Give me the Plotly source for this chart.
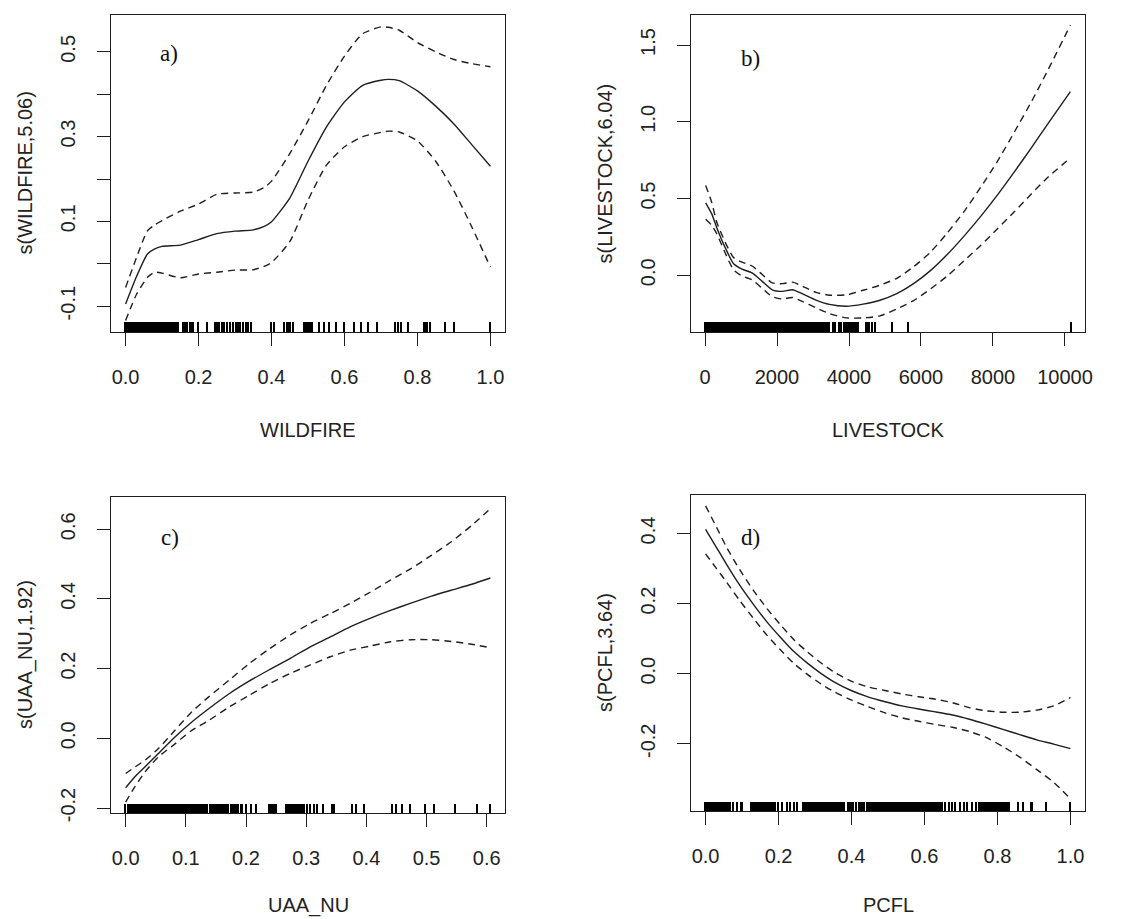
import plotly.graph_objects as go

# ---------------- data ----------------
# a) WILDFIRE
wf_x = [0.00, 0.03, 0.06, 0.08, 0.10, 0.15, 0.20, 0.25, 0.30, 0.35, 0.38, 0.40, 0.45,
        0.50, 0.55, 0.60, 0.65, 0.70, 0.72, 0.75, 0.80, 0.85, 0.90, 0.95, 1.00]
wf_fit = [-0.095, -0.030, 0.023, 0.035, 0.041, 0.044, 0.057, 0.071, 0.077, 0.080, 0.088, 0.099, 0.155,
          0.242, 0.322, 0.382, 0.421, 0.433, 0.435, 0.432, 0.408, 0.372, 0.330, 0.280, 0.230]
wf_upper = [-0.056, 0.015, 0.078, 0.092, 0.102, 0.124, 0.141, 0.164, 0.167, 0.169, 0.180, 0.195, 0.260,
            0.337, 0.420, 0.490, 0.543, 0.559, 0.558, 0.551, 0.522, 0.500, 0.482, 0.472, 0.465]
wf_lower = [-0.134, -0.072, -0.032, -0.020, -0.022, -0.033, -0.024, -0.020, -0.015, -0.014, -0.006, 0.003, 0.052,
            0.150, 0.232, 0.276, 0.300, 0.310, 0.313, 0.311, 0.290, 0.242, 0.172, 0.085, -0.008]
wf_rug = [0.000, 0.002, 0.005, 0.008, 0.010, 0.013, 0.016, 0.018, 0.021, 0.024, 0.027, 0.029, 0.032,
          0.035, 0.037, 0.040, 0.043, 0.046, 0.048, 0.051, 0.054, 0.056, 0.059, 0.062, 0.065, 0.067,
          0.070, 0.073, 0.075, 0.078, 0.081, 0.084, 0.086, 0.089, 0.092, 0.094, 0.097, 0.100, 0.103,
          0.105, 0.108, 0.111, 0.114,
          0.118, 0.123, 0.127, 0.134, 0.139, 0.145, 0.159, 0.164, 0.170, 0.177, 0.184, 0.198, 0.223,
          0.245, 0.252, 0.257, 0.264, 0.270, 0.279, 0.288, 0.295, 0.303, 0.309, 0.315, 0.323, 0.332,
          0.336, 0.345, 0.400, 0.407, 0.435, 0.444, 0.450, 0.459, 0.491, 0.495, 0.500, 0.505, 0.509,
          0.512, 0.532, 0.545, 0.559, 0.577, 0.600, 0.627, 0.645, 0.666, 0.691, 0.739, 0.748, 0.755,
          0.775, 0.820, 0.827, 0.836, 0.877, 0.900, 1.000]

# b) LIVESTOCK
lv_x = [18, 187, 327, 561, 794, 1028, 1308, 1589, 1869, 2150, 2430, 2710, 3084, 3458, 3925,
        4393, 4860, 5327, 5794, 6262, 6729, 7196, 7664, 8131, 8598, 9065, 9533, 10150]
lv_fit = [0.472, 0.400, 0.310, 0.180, 0.075, 0.040, 0.015, -0.040, -0.095, -0.105, -0.095, -0.122,
          -0.162, -0.190, -0.202, -0.188, -0.163, -0.120, -0.055, 0.030, 0.135, 0.255, 0.385, 0.525,
          0.675, 0.830, 0.990, 1.196]
lv_upper = [0.585, 0.475, 0.345, 0.215, 0.115, 0.085, 0.060, 0.005, -0.050, -0.055, -0.045, -0.072,
            -0.112, -0.130, -0.128, -0.098, -0.065, -0.020, 0.055, 0.150, 0.275, 0.415, 0.575, 0.745,
            0.935, 1.130, 1.340, 1.630]
lv_lower = [0.365, 0.325, 0.270, 0.145, 0.035, -0.005, -0.030, -0.085, -0.140, -0.155, -0.145, -0.172,
            -0.212, -0.250, -0.278, -0.278, -0.265, -0.220, -0.165, -0.090, -0.005, 0.095, 0.195, 0.305,
            0.415, 0.530, 0.640, 0.765]
lv_rug = [20, 55, 92, 128, 163, 200, 236, 270, 307, 343, 380, 414, 450, 487, 522, 558, 594, 630, 665,
          702, 738, 772, 809, 845, 880, 916, 952, 988, 1024, 1060, 1095, 1131, 1168, 1203, 1239, 1275,
          1310, 1347, 1382, 1418, 1454, 1490, 1526, 1561, 1597, 1633, 1669, 1705, 1740, 1776, 1812,
          1848, 1884, 1920, 1955, 1991, 2027, 2063, 2099, 2134, 2170, 2206, 2242, 2278, 2313, 2349,
          2385, 2421, 2457, 2492, 2528, 2564, 2600, 2636, 2671, 2707, 2743, 2779, 2815, 2850, 2886,
          2922, 2958, 2994, 3029, 3065, 3101, 3137, 3173, 3208, 3244, 3280, 3316, 3352, 3388, 3416,
          3462, 3554, 3627, 3719, 3783, 3857, 3921, 3967, 4000, 4041, 4105, 4178, 4243, 4472, 4518,
          4564, 4637, 4729, 5207, 5638, 10166]

# c) UAA_NU
ua_x = [0.000, 0.015, 0.032, 0.054, 0.082, 0.110, 0.138, 0.172, 0.205, 0.239, 0.273, 0.306, 0.340,
        0.373, 0.407, 0.440, 0.474, 0.508, 0.541, 0.575, 0.606]
ua_fit = [-0.142, -0.111, -0.082, -0.044, 0.004, 0.047, 0.085, 0.128, 0.164, 0.197, 0.229, 0.262,
          0.291, 0.320, 0.345, 0.367, 0.388, 0.408, 0.425, 0.442, 0.460]
ua_upper = [-0.101, -0.083, -0.063, -0.030, 0.023, 0.076, 0.119, 0.167, 0.214, 0.257, 0.296, 0.329,
            0.358, 0.387, 0.420, 0.454, 0.487, 0.525, 0.564, 0.611, 0.659]
ua_lower = [-0.183, -0.140, -0.097, -0.054, -0.016, 0.023, 0.051, 0.090, 0.123, 0.157, 0.186, 0.210,
            0.234, 0.253, 0.265, 0.277, 0.283, 0.283, 0.278, 0.270, 0.260]
ua_rug = [0.000, 0.0040, 0.0065, 0.0090, 0.0115, 0.0140, 0.0165, 0.0190, 0.0215, 0.0240, 0.0265,
          0.0290, 0.0315, 0.0340, 0.0365, 0.0390, 0.0415, 0.0440, 0.0465, 0.0490, 0.0515, 0.0540,
          0.0565, 0.0590, 0.0615, 0.0640, 0.0665, 0.0690, 0.0715, 0.0740, 0.0765, 0.0790, 0.0815,
          0.0840, 0.0865, 0.0890, 0.0915, 0.0940, 0.0965, 0.0990, 0.1015, 0.1040, 0.1065, 0.1090,
          0.1120, 0.1160, 0.1185, 0.1210, 0.1235, 0.1260, 0.1285, 0.1310, 0.1335, 0.1360,
          0.140, 0.144, 0.148, 0.151, 0.154, 0.157, 0.161, 0.164, 0.168, 0.171, 0.175, 0.178, 0.183,
          0.187, 0.193, 0.201, 0.209, 0.217, 0.239, 0.242, 0.245, 0.248, 0.250, 0.267, 0.271, 0.275,
          0.279, 0.282, 0.286, 0.290, 0.293, 0.297, 0.302, 0.306, 0.313, 0.319, 0.328, 0.344, 0.347,
          0.377, 0.383, 0.396, 0.443, 0.449, 0.460, 0.473, 0.498, 0.512, 0.548, 0.584, 0.606]

# d) PCFL
pc_x = [0.000, 0.030, 0.057, 0.094, 0.131, 0.168, 0.205, 0.242, 0.279, 0.316, 0.353, 0.399, 0.445,
        0.492, 0.538, 0.584, 0.630, 0.677, 0.723, 0.769, 0.815, 0.861, 0.908, 0.954, 1.000]
pc_fit = [0.412, 0.360, 0.313, 0.252, 0.198, 0.148, 0.104, 0.063, 0.030, 0.001, -0.024, -0.048, -0.066,
          -0.080, -0.092, -0.101, -0.109, -0.118, -0.130, -0.144, -0.159, -0.174, -0.189, -0.201, -0.214]
pc_upper = [0.479, 0.418, 0.362, 0.296, 0.238, 0.186, 0.140, 0.097, 0.062, 0.031, 0.004, -0.021, -0.038,
            -0.048, -0.058, -0.066, -0.073, -0.083, -0.097, -0.106, -0.110, -0.110, -0.104, -0.092, -0.068]
pc_lower = [0.342, 0.300, 0.262, 0.208, 0.158, 0.110, 0.068, 0.029, -0.002, -0.029, -0.052, -0.075, -0.094,
            -0.112, -0.126, -0.136, -0.145, -0.153, -0.165, -0.182, -0.208, -0.238, -0.274, -0.310, -0.357]
pc_rug = [0.000, 0.004, 0.008, 0.012, 0.016, 0.020, 0.024, 0.028, 0.032, 0.036, 0.040, 0.044, 0.048,
          0.052, 0.056, 0.060, 0.064, 0.067, 0.076, 0.087, 0.099,
          0.125, 0.129, 0.133, 0.137, 0.141, 0.145, 0.149, 0.153, 0.157, 0.161, 0.165, 0.169, 0.173,
          0.177, 0.181, 0.185, 0.189, 0.191, 0.200, 0.210, 0.224, 0.231, 0.242, 0.251,
          0.268, 0.272, 0.276, 0.280, 0.284, 0.288, 0.292, 0.296, 0.300, 0.304, 0.308, 0.312, 0.316,
          0.320, 0.324, 0.328, 0.332, 0.336, 0.340, 0.344, 0.348, 0.352, 0.356, 0.360, 0.364, 0.368,
          0.372, 0.376, 0.381, 0.390, 0.398, 0.405, 0.413, 0.421, 0.428, 0.436,
          0.443, 0.447, 0.451, 0.455, 0.459, 0.463, 0.467, 0.471, 0.475, 0.479, 0.483, 0.487, 0.491,
          0.495, 0.499, 0.503, 0.507, 0.511, 0.515, 0.519, 0.523, 0.527, 0.531, 0.535, 0.539, 0.543,
          0.547, 0.551, 0.555, 0.559, 0.563, 0.566,
          0.571, 0.576, 0.580, 0.585, 0.590, 0.594, 0.599, 0.604, 0.608, 0.613, 0.618, 0.622, 0.627,
          0.632, 0.636, 0.641, 0.645, 0.649, 0.658, 0.667, 0.676, 0.685, 0.699, 0.708, 0.717, 0.731,
          0.741, 0.750, 0.754, 0.758, 0.762, 0.766, 0.770, 0.774, 0.778, 0.782, 0.786, 0.790, 0.794,
          0.798, 0.802, 0.806, 0.810, 0.814, 0.818, 0.822, 0.826, 0.830, 0.832,
          0.857, 0.871, 0.894, 0.935, 1.000]

# tick definitions
wf_xticks = [0.0, 0.2, 0.4, 0.6, 0.8, 1.0]
wf_xtext = ["0.0", "0.2", "0.4", "0.6", "0.8", "1.0"]
wf_yticks = [-0.1, 0.0, 0.1, 0.2, 0.3, 0.4, 0.5]
wf_ytext = ["-0.1", "", "0.1", "", "0.3", "", "0.5"]
lv_xticks = [0, 2000, 4000, 6000, 8000, 10000]
lv_xtext = ["0", "2000", "4000", "6000", "8000", "10000"]
lv_yticks = [0.0, 0.5, 1.0, 1.5]
lv_ytext = ["0.0", "0.5", "1.0", "1.5"]
ua_xticks = [0.0, 0.1, 0.2, 0.3, 0.4, 0.5, 0.6]
ua_xtext = ["0.0", "0.1", "0.2", "0.3", "0.4", "0.5", "0.6"]
ua_yticks = [-0.2, 0.0, 0.2, 0.4, 0.6]
ua_ytext = ["-0.2", "0.0", "0.2", "0.4", "0.6"]
pc_xticks = [0.0, 0.2, 0.4, 0.6, 0.8, 1.0]
pc_xtext = ["0.0", "0.2", "0.4", "0.6", "0.8", "1.0"]
pc_yticks = [-0.2, 0.0, 0.2, 0.4]
pc_ytext = ["-0.2", "0.0", "0.2", "0.4"]

# ---------------- layout / style ----------------
W, H = 1137, 919
INK = "#1e1e1e"
FONT = "Liberation Sans, Arial, sans-serif"
SERIF = "Liberation Serif, Times New Roman, serif"
RUG_PX = 1.6  # drawn width of one rug tick, in pixels

panels = [
    dict(n=1, x=wf_x, fit=wf_fit, up=wf_upper, lo=wf_lower, rug=wf_rug,
         xt=wf_xticks, xtt=wf_xtext, yt=wf_yticks, ytt=wf_ytext,
         xr=[-0.04, 1.04], yr=[-0.161, 0.587], box=(111, 505, 15, 332), title_gap=98,
         xtitle="WILDFIRE", ytitle="s(WILDFIRE,5.06)", tag="a)", tagpos=(169, 53)),
    dict(n=2, x=lv_x, fit=lv_fit, up=lv_upper, lo=lv_lower, rug=lv_rug,
         xt=lv_xticks, xtt=lv_xtext, yt=lv_yticks, ytt=lv_ytext,
         xr=[-389, 10556], yr=[-0.370, 1.696], box=(691, 1085, 15, 332), title_gap=98,
         xtitle="LIVESTOCK", ytitle="s(LIVESTOCK,6.04)", tag="b)", tagpos=(750, 59)),
    dict(n=3, x=ua_x, fit=ua_fit, up=ua_upper, lo=ua_lower, rug=ua_rug,
         xt=ua_xticks, xtt=ua_xtext, yt=ua_yticks, ytt=ua_ytext,
         xr=[-0.0243, 0.6303], yr=[-0.2143, 0.6925], box=(111, 505, 497, 813), title_gap=92,
         xtitle="UAA_NU", ytitle="s(UAA_NU,1.92)", tag="c)", tagpos=(170, 537)),
    dict(n=4, x=pc_x, fit=pc_fit, up=pc_upper, lo=pc_lower, rug=pc_rug,
         xt=pc_xticks, xtt=pc_xtext, yt=pc_yticks, ytt=pc_ytext,
         xr=[-0.04, 1.04], yr=[-0.392, 0.51], box=(691, 1085, 495, 811), title_gap=94,
         xtitle="PCFL", ytitle="s(PCFL,3.64)", tag="d)", tagpos=(750, 537)),
]

fig = go.Figure()
annotations = []
layout_axes = {}

for p in panels:
    n = p["n"]
    xa = "x" if n == 1 else f"x{n}"
    ya = "y" if n == 1 else f"y{n}"
    l, r, t, b = p["box"]

    # rug: one thin bar per observation, 3% of the plot height tall, from the bottom of the plot
    y0 = p["yr"][0]
    rug_h = 0.03 * (p["yr"][1] - p["yr"][0])
    bar_w = (p["xr"][1] - p["xr"][0]) / (r - l) * RUG_PX
    fig.add_trace(go.Bar(x=p["rug"], y=[rug_h] * len(p["rug"]), base=y0, width=bar_w,
                         xaxis=xa, yaxis=ya, marker=dict(color="#000000", line=dict(width=0)),
                         hoverinfo="skip", showlegend=False))

    # confidence bands (dashed) and fit (solid)
    for ys, dash in ((p["up"], "7px,5px"), (p["lo"], "7px,5px"), (p["fit"], "solid")):
        fig.add_trace(go.Scatter(x=p["x"], y=ys, mode="lines", xaxis=xa, yaxis=ya,
                                 line=dict(color=INK, width=1.4, dash=dash, shape="spline", smoothing=0.6),
                                 hoverinfo="skip", showlegend=False))

    axis_common = dict(showline=True, linecolor=INK, linewidth=1.4, mirror=True,
                       ticks="outside", ticklen=13, tickwidth=1.4, tickcolor=INK,
                       showgrid=False, zeroline=False, automargin=False,
                       tickfont=dict(family=FONT, size=20, color="#222222"),
                       tickmode="array")
    layout_axes["xaxis" if n == 1 else f"xaxis{n}"] = dict(
        axis_common, domain=[l / W, r / W], range=p["xr"], anchor=ya,
        tickvals=p["xt"], ticktext=p["xtt"], ticklabelstandoff=14)
    layout_axes["yaxis" if n == 1 else f"yaxis{n}"] = dict(
        axis_common, domain=[1 - b / H, 1 - t / H], range=p["yr"], anchor=xa,
        tickvals=p["yt"], ticktext=p["ytt"], tickangle=-90, ticklabelstandoff=14)

    # axis titles
    cx = (l + r) / 2
    cy = (t + b) / 2
    annotations.append(dict(text=p["xtitle"], x=cx / W, y=1 - (b + p["title_gap"]) / H,
                            xref="paper", yref="paper",
                            xanchor="center", yanchor="middle", showarrow=False,
                            font=dict(family=FONT, size=20, color="#222222")))
    annotations.append(dict(text=p["ytitle"], x=(l - 86) / W, y=1 - cy / H, xref="paper", yref="paper",
                            xanchor="center", yanchor="middle", showarrow=False, textangle=-90,
                            font=dict(family=FONT, size=20, color="#222222")))
    annotations.append(dict(text=p["tag"], x=p["tagpos"][0] / W, y=1 - p["tagpos"][1] / H,
                            xref="paper", yref="paper", xanchor="center", yanchor="middle",
                            showarrow=False, font=dict(family=SERIF, size=23, color="#111111")))

fig.update_layout(
    width=W, height=H, margin=dict(l=0, r=0, t=0, b=0, pad=0),
    template="none", paper_bgcolor="white", plot_bgcolor="white",
    barmode="overlay", bargap=0,
    showlegend=False, annotations=annotations, **layout_axes)

fig.write_html("out.html")
